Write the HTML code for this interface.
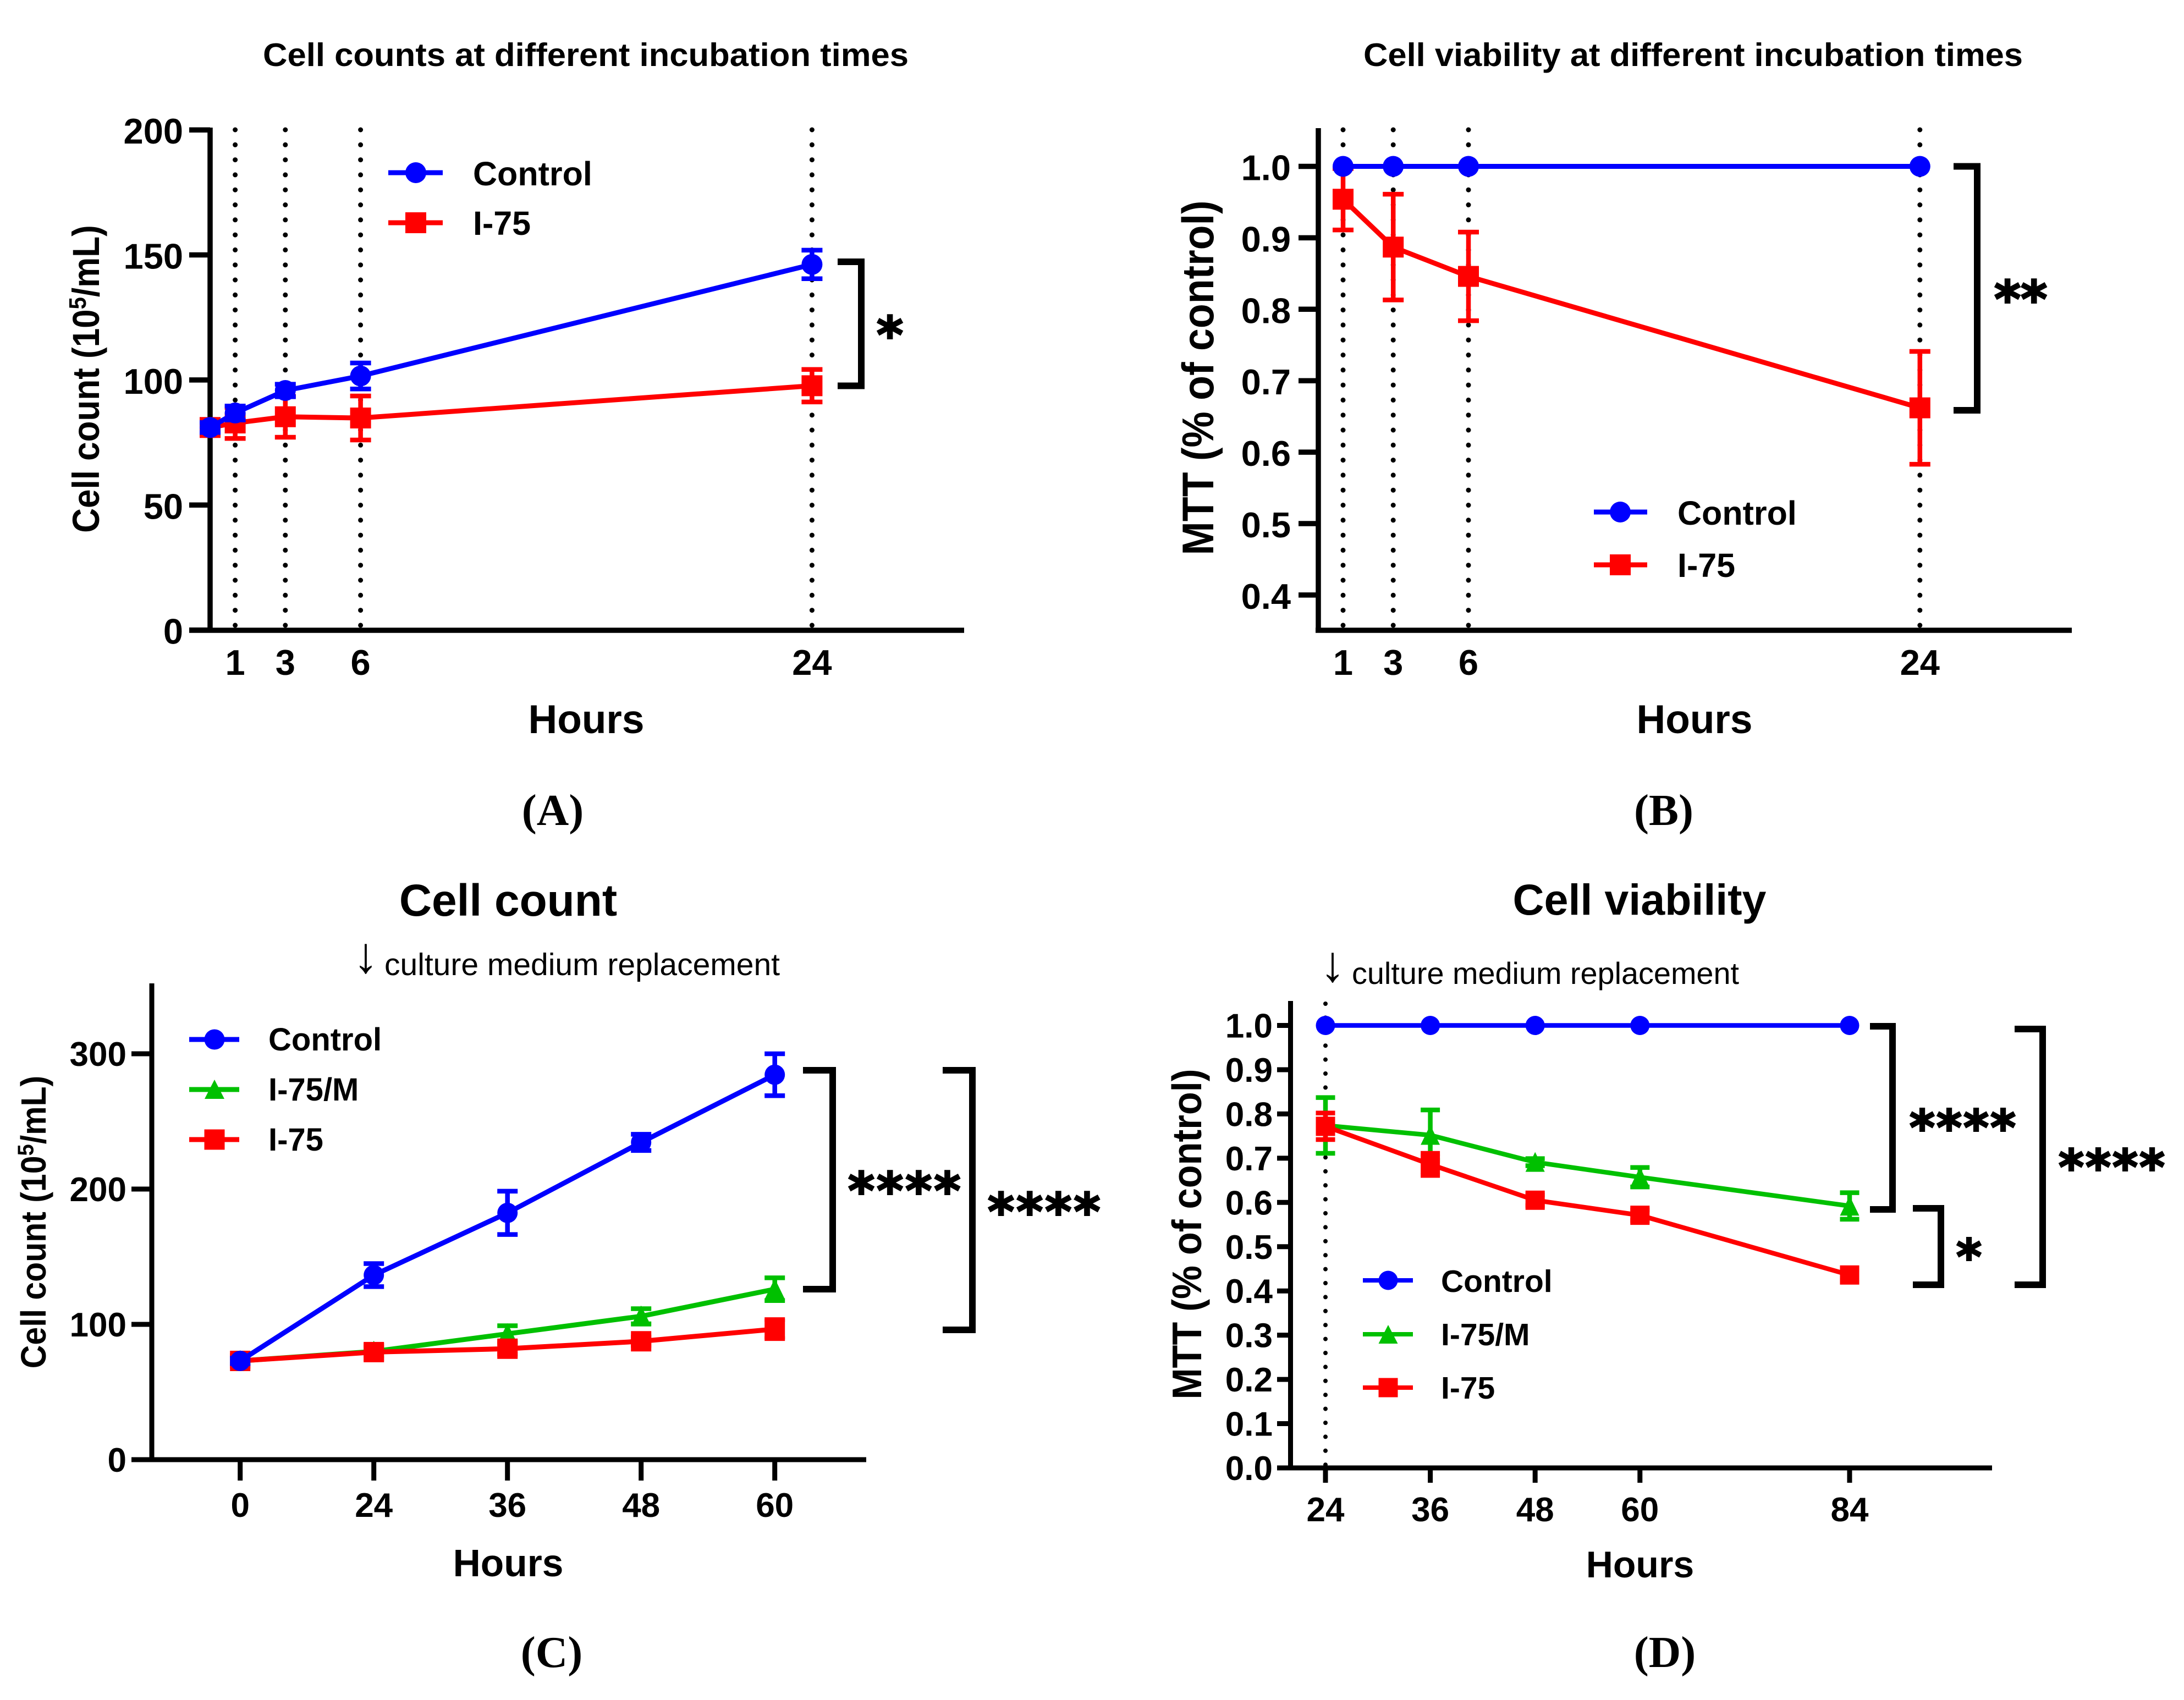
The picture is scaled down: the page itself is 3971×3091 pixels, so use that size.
<!DOCTYPE html>
<html lang="en">
<head>
<meta charset="utf-8">
<title>Cell counts and viability</title>
<style>
html,body{margin:0;padding:0;background:#fff}
svg{display:block}
text{font-family:"Liberation Sans",Arial,sans-serif;fill:#000}
.b{font-weight:700}
.pl{font-family:"Liberation Serif",serif;font-weight:700;font-size:81px;text-anchor:middle}
.m{text-anchor:middle}
.st{font-family:"DejaVu Sans",sans-serif;font-weight:700;stroke:#000;stroke-width:3px}
</style>
</head>
<body>
<svg id="fig" xmlns="http://www.w3.org/2000/svg" width="3971" height="3091" viewBox="0 0 3971 3091">
<rect width="3971" height="3091" fill="#fff"/>

<!-- Panel A -->
<g id="pA"></g>
<g>
<text class="b" x="478" y="120" font-size="59" textLength="1174" lengthAdjust="spacingAndGlyphs">Cell counts at different incubation times</text>
<text class="b m" x="1066" y="1333" font-size="73">Hours</text>
<text class="b m" transform="translate(180 689) rotate(-90) scale(1 1.1)" font-size="62">Cell count (10<tspan font-size="40" dy="-22">5</tspan><tspan dy="22">/mL)</tspan></text>
<line x1="706" x2="805" y1="314" y2="314" stroke="#00f" stroke-width="9"/>
<circle cx="756" cy="314" r="19" fill="#00f"/>
<text class="b" x="860" y="337" font-size="61">Control</text>
<line x1="706" x2="805" y1="405" y2="405" stroke="#f00" stroke-width="9"/>
<rect x="737" y="386" width="38" height="38" fill="#f00"/>
<text class="b" x="860" y="427" font-size="61">I-75</text>
<path d="M1523 476H1566V701.500H1523" fill="none" stroke="#000" stroke-width="12"/>
<text class="st" x="1594" y="641" font-size="92">*</text>
<text class="pl" x="1005" y="1500">(A)</text>
</g>

<!-- Panel B -->
<g id="pB"></g>
<g>
<text class="b" x="2479" y="120" font-size="59" textLength="1199" lengthAdjust="spacingAndGlyphs">Cell viability at different incubation times</text>
<text class="b m" x="3081" y="1333" font-size="73">Hours</text>
<text class="b m" transform="translate(2206 687) rotate(-90) scale(1 1.1)" font-size="73.500">MTT (% of control)</text>
<line x1="2898" x2="2995" y1="931" y2="931" stroke="#00f" stroke-width="9"/>
<circle cx="2946" cy="931" r="19" fill="#00f"/>
<text class="b" x="3050" y="954" font-size="61">Control</text>
<line x1="2898" x2="2995" y1="1027" y2="1027" stroke="#f00" stroke-width="9"/>
<rect x="2927" y="1008" width="38" height="38" fill="#f00"/>
<text class="b" x="3050" y="1049" font-size="61">I-75</text>
<path d="M3552 302.500H3595V746H3552" fill="none" stroke="#000" stroke-width="12"/>
<text class="st" x="3626" y="576" font-size="92" letter-spacing="0">**</text>
<text class="pl" x="3025" y="1500">(B)</text>
</g>

<!-- Panel C -->
<g id="pC"></g>
<g>
<text class="b m" x="924" y="1665" font-size="82">Cell count</text>
<text class="m" x="665" y="1768" font-size="92">↓</text>
<text x="699" y="1773" font-size="57" textLength="719" lengthAdjust="spacingAndGlyphs">culture medium replacement</text>
<text class="b m" x="924" y="2866" font-size="69.500">Hours</text>
<text class="b m" transform="translate(83 2222) rotate(-90) scale(1 1.08)" font-size="59">Cell count (10<tspan font-size="38" dy="-21">5</tspan><tspan dy="21">/mL)</tspan></text>
<line x1="344" x2="435" y1="1890" y2="1890" stroke="#00f" stroke-width="9"/>
<circle cx="390" cy="1890" r="18.500" fill="#00f"/>
<text class="b" x="488" y="1910" font-size="58">Control</text>
<line x1="344" x2="435" y1="1981" y2="1981" stroke="#00c000" stroke-width="9"/>
<polygon points="390,1963 408,1998 372,1998" fill="#00c000"/>
<text class="b" x="488" y="2001" font-size="58">I-75/M</text>
<line x1="344" x2="435" y1="2072" y2="2072" stroke="#f00" stroke-width="9"/>
<rect x="371.500" y="2053.500" width="37" height="37" fill="#f00"/>
<text class="b" x="488" y="2092" font-size="58">I-75</text>
<path d="M1460 1946H1514V2344H1460" fill="none" stroke="#000" stroke-width="12"/>
<path d="M1714 1946H1768V2418H1714" fill="none" stroke="#000" stroke-width="12"/>
<text class="st" x="1542" y="2197" font-size="92" letter-spacing="4">****</text>
<text class="st" x="1796" y="2235" font-size="92" letter-spacing="4">****</text>
<text class="pl" x="1003" y="3031">(C)</text>
</g>

<!-- Panel D -->
<g id="pD"></g>
<g>
<text class="b m" x="2981" y="1663" font-size="79">Cell viability</text>
<text class="m" x="2423" y="1784" font-size="92">↓</text>
<text x="2458" y="1789" font-size="56" textLength="704" lengthAdjust="spacingAndGlyphs">culture medium replacement</text>
<text class="b m" x="2982" y="2868" font-size="68">Hours</text>
<text class="b m" transform="translate(2184 2244) rotate(-90) scale(1 1.1)" font-size="68.500">MTT (% of control)</text>
<line x1="2478" x2="2569" y1="2328" y2="2328" stroke="#00f" stroke-width="8"/>
<circle cx="2524" cy="2328" r="17.500" fill="#00f"/>
<text class="b" x="2620" y="2349" font-size="57">Control</text>
<line x1="2478" x2="2569" y1="2426" y2="2426" stroke="#00c000" stroke-width="8"/>
<polygon points="2524,2409 2541.500,2443 2506.500,2443" fill="#00c000"/>
<text class="b" x="2620" y="2446" font-size="57">I-75/M</text>
<line x1="2478" x2="2569" y1="2523" y2="2523" stroke="#f00" stroke-width="8"/>
<rect x="2506.500" y="2505.500" width="35" height="35" fill="#f00"/>
<text class="b" x="2620" y="2543" font-size="57">I-75</text>
<path d="M3400 1866H3441V2199H3400" fill="none" stroke="#000" stroke-width="12"/>
<path d="M3478 2197H3529V2336H3478" fill="none" stroke="#000" stroke-width="12"/>
<path d="M3663 1871H3714V2336H3663" fill="none" stroke="#000" stroke-width="12"/>
<text class="st" x="3472" y="2081" font-size="88" letter-spacing="3">****</text>
<text class="st" x="3557" y="2316" font-size="88">*</text>
<text class="st" x="3743" y="2153" font-size="88" letter-spacing="3">****</text>
<text class="pl" x="3027" y="3031">(D)</text>
</g>
</svg>

<script>
// Panel A data
const aHours = [0, 1, 3, 6, 24];
const aControl = [81, 86.8, 95.8, 101.6, 146.2];
const aControlErr = [2, 2.8, 2.5, 5.2, 5.7];
const aI75 = [81, 82.8, 85.3, 84.8, 97.7];
const aI75Err = [3, 6.2, 8.2, 8.8, 6.5];
const aYTicks = [0, 50, 100, 150, 200];
const aXLabels = [1, 3, 6, 24];

// Panel B data
const bHours = [1, 3, 6, 24];
const bControl = [1, 1, 1, 1];
const bI75 = [0.954, 0.887, 0.846, 0.662];
const bI75Err = [0.043, 0.074, 0.062, 0.079];
const bYTicks = [0.4, 0.5, 0.6, 0.7, 0.8, 0.9, 1.0];

// Panel C data
const cCategories = ['0', '24', '36', '48', '60'];
const cControl = [73, 136.4, 182.4, 234.5, 284.5];
const cControlErr = [2, 8.5, 16, 6, 15.5];
const cI75M = [73, 80, 93, 106, 126];
const cI75MErr = [2, 3, 6, 5.6, 8.4];
const cI75 = [73, 79.5, 82, 87.5, 96.5];
const cI75Err = [4, 5, 4, 3, 7];
const cYTicks = [0, 100, 200, 300];

// Panel D data
const dHours = [24, 36, 48, 60, 84];
const dControl = [1, 1, 1, 1, 1];
const dI75M = [0.774, 0.752, 0.691, 0.657, 0.592];
const dI75MErr = [0.063, 0.057, 0.008, 0.022, 0.03];
const dI75 = [0.772, 0.686, 0.605, 0.571, 0.436];
const dI75Err = [0.03, 0.025, 0.012, 0.012, 0.012];
const dYTicks = [0, 0.1, 0.2, 0.3, 0.4, 0.5, 0.6, 0.7, 0.8, 0.9, 1.0];

const NS = 'http://www.w3.org/2000/svg';
const BLUE = '#0000ff', RED = '#ff0000', GREEN = '#00c000';

function mk(parent, tag, attrs) {
  const el = document.createElementNS(NS, tag);
  for (const k in attrs) el.setAttribute(k, attrs[k]);
  parent.appendChild(el);
  return el;
}

function drawAxes(g, o) {
  const yLine = mk(g, 'line', {x1: o.axisX, x2: o.axisX, y1: o.top, y2: o.base + 4.5, stroke: '#000', 'stroke-width': o.aw});
  
  
  const xLine = mk(g, 'line', {x1: o.xStart, x2: o.xEnd, y1: o.base, y2: o.base, stroke: '#000', 'stroke-width': o.aw});
  
  
  o.yTicks.forEach(function (v) {
    const y = o.y(v);
    const t = mk(g, 'line', {x1: o.tickLeft, x2: o.axisX, y1: y, y2: y, stroke: '#000', 'stroke-width': o.aw});
    
    
    const lab = mk(g, 'text', {x: o.labelRight, y: y + o.yLabelDy, 'font-size': o.tickFont, 'font-weight': 700, 'text-anchor': 'end'});
    lab.textContent = o.yFmt(v);
    
    
  });
  o.xTicks.forEach(function (d) {
    const x = o.x(d.v);
    if (o.xTickBottom) {
      const t = mk(g, 'line', {x1: x, x2: x, y1: o.base, y2: o.xTickBottom, stroke: '#000', 'stroke-width': o.aw});
      
      
    }
    const lab = mk(g, 'text', {x: x, y: o.xLabelY, 'font-size': o.tickFont, 'font-weight': 700, 'text-anchor': 'middle'});
    lab.textContent = d.label;
    
    
  });
}

function drawDotted(g, x, top, base, gap, w) {
  const l = mk(g, 'line', {x1: x, x2: x, y1: top, y2: base, stroke: '#000', 'stroke-width': w, 'stroke-linecap': 'round', 'stroke-dasharray': '0 ' + gap});
  
  
}

function drawSeries(g, o, s) {
  const pts = s.xs.map(function (v, i) { return [o.x(v), o.y(s.ys[i])]; });
  if (s.err) {
    s.xs.forEach(function (v, i) {
      const x = o.x(v), hi = o.y(s.ys[i] + s.err[i]), lo = o.y(s.ys[i] - s.err[i]);
      const e = mk(g, 'path', {d: 'M' + (x - o.mr) + ' ' + hi + 'H' + (x + o.mr) + 'M' + x + ' ' + hi + 'V' + lo + 'M' + (x - o.mr) + ' ' + lo + 'H' + (x + o.mr), fill: 'none', stroke: s.color, 'stroke-width': 8.5});
      
      
    });
  }
  const line = mk(g, 'polyline', {points: pts.map(function (p) { return p.join(','); }).join(' '), fill: 'none', stroke: s.color, 'stroke-width': o.lw, 'stroke-linejoin': 'round'});
  
  
  pts.forEach(function (p) {
    let m;
    if (s.shape === 'circle') {
      m = mk(g, 'circle', {cx: p[0], cy: p[1], r: o.mr, fill: s.color});
    } else if (s.shape === 'square') {
      m = mk(g, 'rect', {x: p[0] - o.mr, y: p[1] - o.mr, width: 2 * o.mr, height: 2 * o.mr, fill: s.color});
    } else {
      m = mk(g, 'polygon', {points: p[0] + ',' + (p[1] - o.mr - 1) + ' ' + (p[0] + o.mr) + ',' + (p[1] + o.mr) + ' ' + (p[0] - o.mr) + ',' + (p[1] + o.mr), fill: s.color});
    }
    
    
  });
}

// Panel A
(function () {
  const g = document.getElementById('pA');
  const o = {
    x: function (h) { return 382 + 45.6 * h; },
    y: function (v) { return 1145.6 - 4.547 * v; },
    axisX: 382, top: 232, base: 1146, xStart: 344, xEnd: 1753, tickLeft: 344, labelRight: 333,
    yLabelDy: 25, tickFont: 65, xLabelY: 1227, mr: 19, lw: 9, aw: 9.5,
    yTicks: aYTicks, yFmt: String,
    xTicks: aXLabels.map(function (h) { return {v: h, label: String(h)}; })
  };
  aXLabels.forEach(function (h) { drawDotted(g, o.x(h), 236, 1146, 27.3, 9); });
  drawAxes(g, o);
  drawSeries(g, o, {name: 'i75', xs: aHours, ys: aI75, err: aI75Err, color: RED, shape: 'square'});
  drawSeries(g, o, {name: 'control', xs: aHours, ys: aControl, err: aControlErr, color: BLUE, shape: 'circle'});
})();

// Panel B
(function () {
  const g = document.getElementById('pB');
  const o = {
    x: function (h) { return 2396.4 + 45.6 * h; },
    y: function (v) { return 302.5 + (1 - v) * 1299; },
    axisX: 2397, top: 233, base: 1146, xStart: 2392, xEnd: 3767, tickLeft: 2361, labelRight: 2347,
    yLabelDy: 25, tickFont: 65, xLabelY: 1227, mr: 19, lw: 9, aw: 9.5,
    yTicks: bYTicks, yFmt: function (v) { return v.toFixed(1); },
    xTicks: bHours.map(function (h) { return {v: h, label: String(h)}; })
  };
  bHours.forEach(function (h) { drawDotted(g, o.x(h), 236, 1146, 27.3, 9); });
  drawAxes(g, o);
  drawSeries(g, o, {name: 'i75', xs: bHours, ys: bI75, err: bI75Err, color: RED, shape: 'square'});
  drawSeries(g, o, {name: 'control', xs: bHours, ys: bControl, color: BLUE, shape: 'circle'});
})();

// Panel C
(function () {
  const g = document.getElementById('pC');
  const idx = cCategories.map(function (c, i) { return i; });
  const o = {
    x: function (i) { return 436.7 + 243 * i; },
    y: function (v) { return 2654 - 2.46 * v; },
    axisX: 276, top: 1788, base: 2654, xStart: 239, xEnd: 1575, tickLeft: 239, labelRight: 230,
    yLabelDy: 22, tickFont: 62, xLabelY: 2758, xTickBottom: 2692, mr: 18.5, lw: 9, aw: 9,
    yTicks: cYTicks, yFmt: String,
    xTicks: cCategories.map(function (c, i) { return {v: i, label: c}; })
  };
  drawAxes(g, o);
  drawSeries(g, o, {name: 'i75-m', xs: idx, ys: cI75M, err: cI75MErr, color: GREEN, shape: 'triangle'});
  drawSeries(g, o, {name: 'i75', xs: idx, ys: cI75, err: cI75Err, color: RED, shape: 'square'});
  drawSeries(g, o, {name: 'control', xs: idx, ys: cControl, err: cControlErr, color: BLUE, shape: 'circle'});
})();

// Panel D
(function () {
  const g = document.getElementById('pD');
  const o = {
    x: function (h) { return 2410 + 15.883 * (h - 24); },
    y: function (v) { return 2669 - 804.5 * v; },
    axisX: 2346.5, top: 1820, base: 2669, xStart: 2322, xEnd: 3622, tickLeft: 2322, labelRight: 2314,
    yLabelDy: 22, tickFont: 62, xLabelY: 2766, xTickBottom: 2696, mr: 17.5, lw: 8.5, aw: 9,
    yTicks: dYTicks, yFmt: function (v) { return v.toFixed(1); },
    xTicks: dHours.map(function (h) { return {v: h, label: String(h)}; })
  };
  drawDotted(g, o.x(24), 1825, 2669, 25.4, 8);
  drawAxes(g, o);
  drawSeries(g, o, {name: 'i75-m', xs: dHours, ys: dI75M, err: dI75MErr, color: GREEN, shape: 'triangle'});
  drawSeries(g, o, {name: 'i75', xs: dHours, ys: dI75, err: dI75Err, color: RED, shape: 'square'});
  drawSeries(g, o, {name: 'control', xs: dHours, ys: dControl, color: BLUE, shape: 'circle'});
})();
</script>
</body>
</html>
